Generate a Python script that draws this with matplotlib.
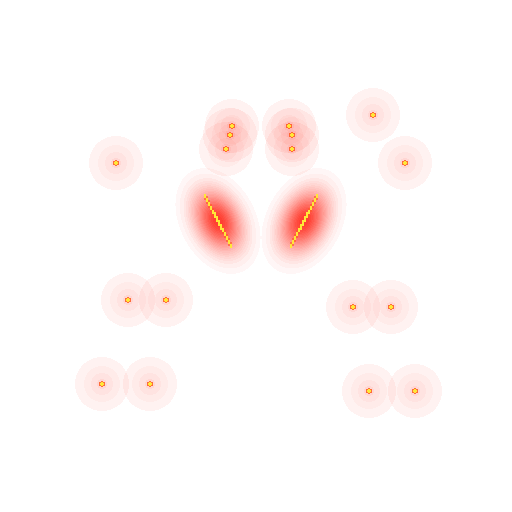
import numpy as np
import matplotlib
matplotlib.use("Agg")
import matplotlib.pyplot as plt
from matplotlib.colors import to_rgb

# single events (pixel coords, y pointing down)
pts_x = [116, 232, 230, 226, 289, 292, 292, 373, 405, 128, 166, 353, 391, 102, 150, 369, 415]
pts_y = [163, 126, 135, 149, 126, 135, 149, 115, 163, 300, 300, 307, 307, 384, 384, 391, 391]

# two strokes
seg_x0 = [205, 317]
seg_y0 = [196, 196]
seg_x1 = [231, 291]
seg_y1 = [246, 246]

glow = '#ff2d1e'
yellow = '#ffe838'
edge = '#ff5a1e'


def grid(n):
    c = (np.arange(n) + 0.5) * 512 / n
    return np.meshgrid(c, c)


def layer(ax, colour, alpha):
    rgba = np.zeros(alpha.shape + (4,))
    rgba[..., :3] = to_rgb(colour)
    rgba[..., 3] = alpha
    ax.imshow(rgba, extent=(0, 512, 512, 0), interpolation='nearest')


fig = plt.figure(figsize=(5.12, 5.12), dpi=100)
ax = fig.add_axes([0, 0, 1, 1])

gx, gy = grid(512)
hx, hy = grid(256)

# halo rings around each event
ring_r = [27, 18, 11, 5]
ring_a = [0.06, 0.095, 0.135, 0.19]
for px, py in zip(pts_x, pts_y):
    r = np.hypot(gx - px, gy - py)
    a = np.zeros_like(r)
    for rr, aa in zip(ring_r, ring_a):
        a[r < rr] = aa
    layer(ax, glow, a)

# elongated glow around each stroke
lv = np.concatenate([[0.05, 0.09], np.linspace(0.14, 0.96, 22)])
for x0, y0, x1, y1 in zip(seg_x0, seg_y0, seg_x1, seg_y1):
    L = np.hypot(x1 - x0, y1 - y0)
    ux, uy = (x1 - x0) / L, (y1 - y0) / L
    cx, cy = (x0 + x1) / 2, (y0 + y1) / 2
    t = (gx - cx) * ux + (gy - cy) * uy
    d = -(gx - cx) * uy + (gy - cy) * ux
    inten = np.exp(-t ** 2 / (2 * 23.0 ** 2) - d ** 2 / (2 * 15.5 ** 2))
    idx = np.searchsorted(lv, inten, side='right')
    a = np.where(idx > 0, lv[np.maximum(idx - 1, 0)], 0.0)
    layer(ax, glow, 0.95 * a ** 1.05)

# stroke cores
for x0, y0, x1, y1 in zip(seg_x0, seg_y0, seg_x1, seg_y1):
    L = np.hypot(x1 - x0, y1 - y0)
    ux, uy = (x1 - x0) / L, (y1 - y0) / L
    tc = np.clip((hx - x0) * ux + (hy - y0) * uy, 0, L)
    dist = np.hypot(hx - (x0 + tc * ux), hy - (y0 + tc * uy))
    layer(ax, edge, np.where(dist < 1.7, 0.6, 0.0))
    layer(ax, yellow, np.where(dist < 1.1, 1.0, 0.0))

# event cores
for px, py in zip(pts_x, pts_y):
    r = np.hypot((gx - px) / 1.3, gy - py)
    layer(ax, edge, np.where(r < 2.6, 0.85, 0.0))
    layer(ax, yellow, np.where(r < 1.6, 1.0, 0.0))

ax.set_xlim(0, 512)
ax.set_ylim(512, 0)
ax.axis('off')

fig.savefig('out.png', dpi=100)
